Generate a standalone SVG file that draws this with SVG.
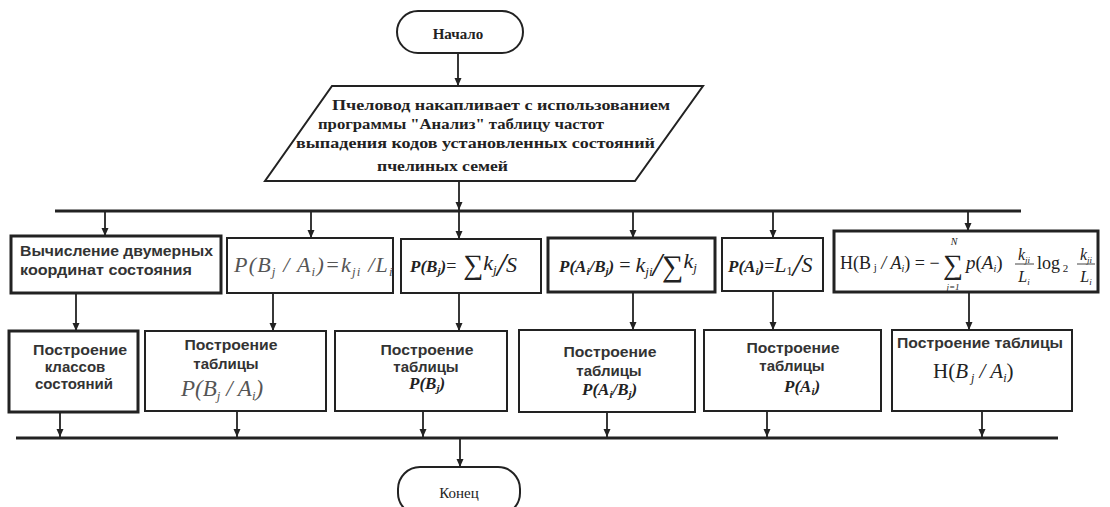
<svg xmlns="http://www.w3.org/2000/svg" width="1110" height="507" viewBox="0 0 1110 507">
<style>
.bg{fill:#fff}
.box{fill:#fff;stroke:#222;stroke-width:2}
.thick{stroke-width:3}
.ln{stroke:#222;stroke-width:1.8;fill:none}
.bus{stroke:#222;stroke-width:3;fill:none}
.sans{font-family:"Liberation Sans",Arial,sans-serif;font-weight:bold;font-size:15px;fill:#333}
.serif{font-family:"Liberation Serif","Times New Roman",serif;fill:#222}
.sb{font-family:"Liberation Serif","Times New Roman",serif;font-weight:bold;font-size:15px;fill:#222}
.fm{font-family:"Liberation Serif","Times New Roman",serif;font-style:italic;fill:#555}
.fb{font-family:"Liberation Serif","Times New Roman",serif;font-style:italic;font-weight:bold;fill:#222}
.n{font-weight:normal}
.up{font-style:normal}
.c{text-anchor:middle}
</style>
<defs>
<marker id="ah" markerWidth="8" markerHeight="8" refX="8" refY="4" orient="auto" markerUnits="userSpaceOnUse">
<path d="M0,0.5 L8,4 L0,7.5 z" fill="#222"/>
</marker>
</defs>
<rect class="bg" x="0" y="0" width="1110" height="507"/>

<g id="connectors">
<line class="bus" x1="55" y1="211" x2="1021" y2="211"/>
<line class="bus" x1="16" y1="438" x2="1058" y2="438"/>
<line class="ln" x1="458" y1="53" x2="458" y2="86" marker-end="url(#ah)"/>
<line class="ln" x1="459" y1="181" x2="459" y2="210" marker-end="url(#ah)"/>
<line class="ln" x1="105" y1="212" x2="105" y2="236" marker-end="url(#ah)"/>
<line class="ln" x1="311" y1="212" x2="311" y2="238" marker-end="url(#ah)"/>
<line class="ln" x1="459" y1="212" x2="459" y2="239" marker-end="url(#ah)"/>
<line class="ln" x1="633" y1="212" x2="633" y2="238" marker-end="url(#ah)"/>
<line class="ln" x1="773" y1="212" x2="773" y2="238" marker-end="url(#ah)"/>
<line class="ln" x1="968" y1="212" x2="968" y2="231" marker-end="url(#ah)"/>
<line class="ln" x1="76" y1="294" x2="76" y2="331" marker-end="url(#ah)"/>
<line class="ln" x1="273" y1="293" x2="273" y2="331" marker-end="url(#ah)"/>
<line class="ln" x1="459" y1="293" x2="459" y2="331" marker-end="url(#ah)"/>
<line class="ln" x1="633" y1="292" x2="633" y2="330" marker-end="url(#ah)"/>
<line class="ln" x1="773" y1="291" x2="773" y2="330" marker-end="url(#ah)"/>
<line class="ln" x1="969" y1="292" x2="969" y2="330" marker-end="url(#ah)"/>
<line class="ln" x1="60" y1="413" x2="60" y2="437" marker-end="url(#ah)"/>
<line class="ln" x1="237" y1="411" x2="237" y2="437" marker-end="url(#ah)"/>
<line class="ln" x1="423" y1="411" x2="423" y2="437" marker-end="url(#ah)"/>
<line class="ln" x1="607" y1="412" x2="607" y2="437" marker-end="url(#ah)"/>
<line class="ln" x1="767" y1="411" x2="767" y2="437" marker-end="url(#ah)"/>
<line class="ln" x1="982" y1="411" x2="982" y2="437" marker-end="url(#ah)"/>
<line class="ln" x1="460" y1="439" x2="460" y2="467" marker-end="url(#ah)"/>
</g>

<g id="start">
<rect class="box" x="397" y="11" width="126" height="42" rx="21"/>
<text class="serif c" x="458" y="39" font-size="15" font-weight="bold" fill="#333">Начало</text>
</g>

<g id="input">
<polygon class="box" points="332,86 703,86 635,181 265,181"/>
<text class="sb" x="332" y="110" textLength="338" lengthAdjust="spacingAndGlyphs">Пчеловод накапливает с  использованием</text>
<text class="sb" x="318" y="129" textLength="286" lengthAdjust="spacingAndGlyphs">программы "Анализ" таблицу частот</text>
<text class="sb" x="296" y="148" textLength="359" lengthAdjust="spacingAndGlyphs">выпадения кодов установленных состояний</text>
<text class="sb" x="377" y="171" textLength="131" lengthAdjust="spacingAndGlyphs">пчелиных семей</text>
</g>

<g id="calc-coords">
<rect class="box thick" x="11" y="236" width="210" height="57"/>
<text class="sans" x="20" y="256" textLength="193" lengthAdjust="spacingAndGlyphs">Вычисление двумерных</text>
<text class="sans" x="20" y="275" textLength="172" lengthAdjust="spacingAndGlyphs">координат состояния</text>
</g>

<g id="formula-pba">
<rect class="box" x="227" y="238" width="166" height="55"/>
<text class="fm" x="234" y="272" font-size="22" letter-spacing="1.2">P(B<tspan font-size="13" dy="4">j</tspan><tspan dy="-4"> / A</tspan><tspan font-size="13" dy="4">i</tspan><tspan dy="-4">)=k</tspan><tspan font-size="13" dy="4">ji</tspan><tspan dy="-4"> /L</tspan><tspan font-size="13" dy="4">i</tspan></text>
</g>

<g id="formula-pb">
<rect class="box" x="401" y="239" width="140" height="54"/>
<text class="fb" x="410" y="272" font-size="17">P(B<tspan font-size="11" dy="3">j</tspan><tspan dy="-3">)</tspan><tspan class="up n" font-size="18">=</tspan><tspan class="up n" font-size="28" dy="2"> ∑</tspan><tspan class="n" font-size="22" dy="-4">k</tspan><tspan class="n" font-size="13" dy="4">j</tspan><tspan class="n" font-size="34" dy="2">/</tspan><tspan class="n" font-size="22" dy="-4">S</tspan></text>
</g>

<g id="formula-pab">
<rect class="box thick" x="548" y="238" width="167" height="54"/>
<text class="fb" x="559" y="272" font-size="17">P(A<tspan font-size="11" dy="3">i</tspan><tspan dy="-3">/B</tspan><tspan font-size="11" dy="3">j</tspan><tspan dy="-3">)</tspan><tspan class="up n" font-size="20"> = </tspan><tspan class="n" font-size="22">k</tspan><tspan class="n" font-size="13" dy="4">ji</tspan><tspan class="n" font-size="34" dy="0">/</tspan><tspan class="up n" font-size="30" dy="0">∑</tspan><tspan class="n" font-size="22" dy="-8">k</tspan><tspan class="n" font-size="13" dy="4">j</tspan></text>
</g>

<g id="formula-pa">
<rect class="box" x="722" y="238" width="101" height="53"/>
<text class="fb" x="728" y="272" font-size="17">P(A<tspan font-size="11" dy="3">i</tspan><tspan dy="-3">)</tspan><tspan class="up n" font-size="18">=</tspan><tspan class="n" font-size="22">L</tspan><tspan class="up n" font-size="12" dy="3">1</tspan><tspan class="n" font-size="32" dy="1">/</tspan><tspan class="n" font-size="22" dy="-4">S</tspan></text>
</g>

<g id="formula-h">
<rect class="box thick" x="834" y="231" width="264" height="61"/>
<text class="serif" x="840" y="269" font-size="18" fill="#444">H(B<tspan font-size="11" dy="2"> j</tspan><tspan dy="-2" font-style="italic"> / A</tspan><tspan font-size="10" dy="3" font-style="italic">i</tspan><tspan dy="-3">) = −</tspan></text>
<text class="serif c" x="953" y="274" font-size="28" fill="#444">∑</text>
<text class="serif c" x="954" y="245" font-size="10" font-style="italic" fill="#444">N</text>
<text class="serif c" x="953" y="290" font-size="9" font-style="italic" fill="#444">j=1</text>
<text class="serif" x="966" y="269" font-size="19" font-style="italic" fill="#444">p<tspan font-style="normal">(</tspan>A<tspan font-size="10" dy="3">i</tspan><tspan dy="-3" font-style="normal">)</tspan></text>
<text class="serif c" x="1024" y="260" font-size="16" font-style="italic" fill="#444">k<tspan font-size="9" dy="3">ji</tspan></text>
<line x1="1015" y1="264" x2="1034" y2="264" stroke="#444" stroke-width="1"/>
<text class="serif c" x="1024" y="282" font-size="16" font-style="italic" fill="#444">L<tspan font-size="9" dy="3">i</tspan></text>
<text class="serif" x="1037" y="269" font-size="18" fill="#444">log<tspan font-size="11" dy="3"> 2</tspan></text>
<text class="serif c" x="1086" y="260" font-size="16" font-style="italic" fill="#444">k<tspan font-size="9" dy="3">ji</tspan></text>
<line x1="1077" y1="264" x2="1095" y2="264" stroke="#444" stroke-width="1"/>
<text class="serif c" x="1086" y="282" font-size="16" font-style="italic" fill="#444">L<tspan font-size="9" dy="3">i</tspan></text>
</g>

<g id="build-classes">
<rect class="box thick" x="9" y="331" width="129" height="81"/>
<text class="sans c" x="80" y="355" textLength="94" lengthAdjust="spacingAndGlyphs">Построение</text>
<text class="sans c" x="75" y="372">классов</text>
<text class="sans c" x="74" y="389">состояний</text>
</g>

<g id="table-pba">
<rect class="box" x="145" y="331" width="181" height="80"/>
<text class="sans c" x="231" y="350" textLength="93" lengthAdjust="spacingAndGlyphs">Построение</text>
<text class="sans c" x="226" y="369">таблицы</text>
<text class="fm" x="181" y="396" font-size="23">P(B<tspan font-size="13" dy="4">j</tspan><tspan dy="-4"> / A</tspan><tspan font-size="13" dy="4">i</tspan><tspan dy="-4">)</tspan></text>
</g>

<g id="table-pb">
<rect class="box" x="335" y="331" width="172" height="80"/>
<text class="sans c" x="427" y="355" textLength="93" lengthAdjust="spacingAndGlyphs">Построение</text>
<text class="sans c" x="426" y="372">таблицы</text>
<text class="fb" x="409" y="389" font-size="17">P(B<tspan font-size="11" dy="3">j</tspan><tspan dy="-3">)</tspan></text>
</g>

<g id="table-pab">
<rect class="box" x="519" y="330" width="176" height="82"/>
<text class="sans c" x="610" y="357" textLength="93" lengthAdjust="spacingAndGlyphs">Построение</text>
<text class="sans c" x="609" y="376">таблицы</text>
<text class="fb" x="582" y="395" font-size="17">P(A<tspan font-size="11" dy="3">i</tspan><tspan dy="-3">/B</tspan><tspan font-size="11" dy="3">j</tspan><tspan dy="-3">)</tspan></text>
</g>

<g id="table-pa">
<rect class="box" x="704" y="330" width="177" height="81"/>
<text class="sans c" x="793" y="353" textLength="93" lengthAdjust="spacingAndGlyphs">Построение</text>
<text class="sans c" x="792" y="371">таблицы</text>
<text class="fb" x="784" y="392" font-size="17">P(A<tspan font-size="11" dy="3">i</tspan><tspan dy="-3">)</tspan></text>
</g>

<g id="table-h">
<rect class="box" x="892" y="330" width="180" height="81"/>
<text class="sans c" x="980" y="348" textLength="166" lengthAdjust="spacingAndGlyphs">Построение таблицы</text>
<text class="serif" x="933" y="378" font-size="21" fill="#555">H(<tspan font-style="italic">B</tspan><tspan font-size="12" dy="4" font-style="italic"> j</tspan><tspan dy="-4" font-style="italic"> / A</tspan><tspan font-size="12" dy="4" font-style="italic">i</tspan><tspan dy="-4">)</tspan></text>
</g>

<g id="end">
<rect class="box" x="398" y="467" width="122" height="48" rx="22"/>
<text class="serif c" x="459" y="498" font-size="15" fill="#333">Конец</text>
</g>
</svg>
